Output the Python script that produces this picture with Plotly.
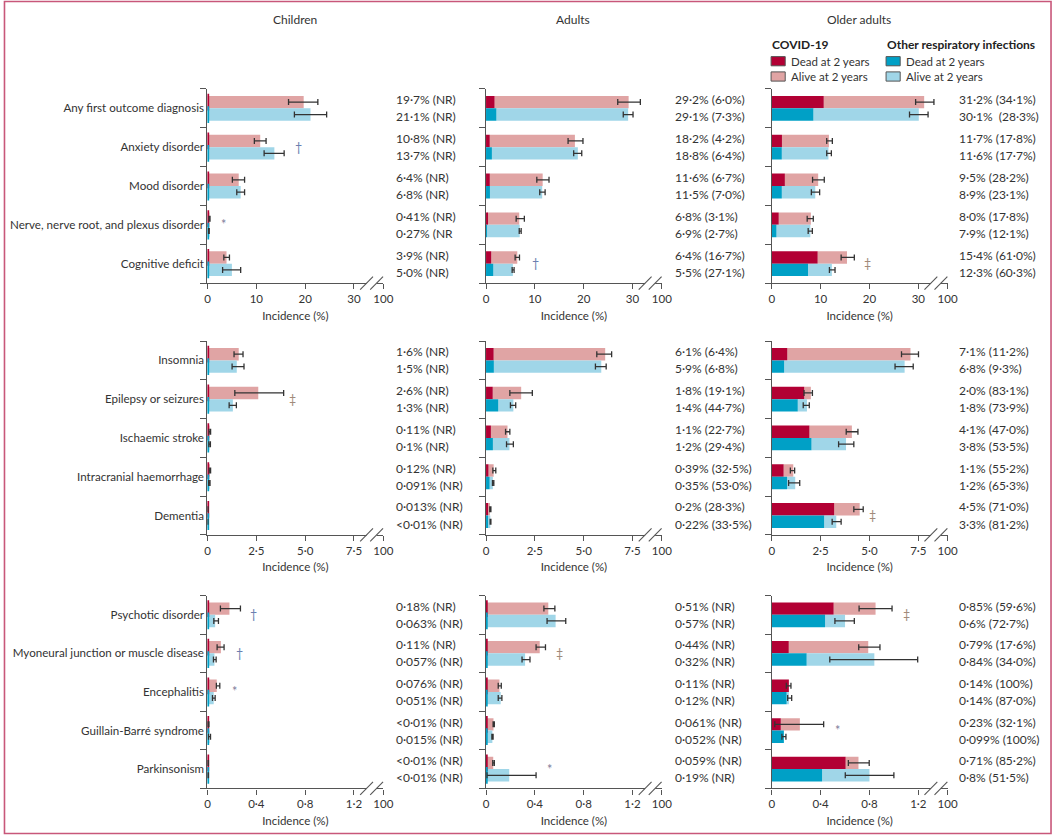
import plotly.graph_objects as go

# ---------------- DATA ----------------
groups = ["Children", "Adults", "Older adults"]

row1_categories = ["Any first outcome diagnosis", "Anxiety disorder", "Mood disorder",
                   "Nerve, nerve root, and plexus disorder", "Cognitive deficit"]
row2_categories = ["Insomnia", "Epilepsy or seizures", "Ischaemic stroke",
                   "Intracranial haemorrhage", "Dementia"]
row3_categories = ["Psychotic disorder", "Myoneural junction or muscle disease", "Encephalitis",
                   "Guillain-Barré syndrome", "Parkinsonism"]
row_categories = [row1_categories, row2_categories, row3_categories]

row_axis_max = [30, 7.5, 1.2]
row_tick_vals = [[0, 10, 20, 30], [0, 2.5, 5.0, 7.5], [0, 0.4, 0.8, 1.2]]
row_tick_text = [["0", "10", "20", "30", "100"], ["0", "2·5", "5·0", "7·5", "100"],
                 ["0", "0·4", "0·8", "1·2", "100"]]

# Children (share dead at 2 years not reported)
children_covid_total = [[19.7, 10.8, 6.4, 0.41, 3.9], [1.6, 2.6, 0.11, 0.12, 0.013], [0.18, 0.11, 0.076, 0.005, 0.005]]
children_covid_lo = [[16.6, 9.6, 5.1, 0.30, 3.35], [1.36, 1.40, 0.08, 0.09, 0.005], [0.106, 0.079, 0.073, 0.002, 0.001]]
children_covid_hi = [[22.6, 12.0, 7.6, 0.52, 4.5], [1.82, 3.9, 0.16, 0.16, 0.03], [0.27, 0.136, 0.101, 0.012, 0.008]]
children_covid_dead = [[None] * 5, [None] * 5, [None] * 5]
children_ori_total = [[21.1, 13.7, 6.8, 0.27, 5.0], [1.5, 1.3, 0.1, 0.091, 0.005], [0.063, 0.057, 0.051, 0.015, 0.005]]
children_ori_lo = [[17.8, 11.6, 6.0, 0.20, 3.1], [1.26, 1.11, 0.07, 0.06, 0.001], [0.052, 0.049, 0.041, 0.008, 0.001]]
children_ori_hi = [[24.4, 15.7, 7.6, 0.36, 6.8], [1.87, 1.48, 0.15, 0.13, 0.02], [0.09, 0.071, 0.063, 0.025, 0.008]]
children_ori_dead = [[None] * 5, [None] * 5, [None] * 5]
children_covid_text = [["19·7% (NR)", "10·8% (NR)", "6·4% (NR)", "0·41% (NR)", "3·9% (NR)"],
                       ["1·6% (NR)", "2·6% (NR)", "0·11% (NR)", "0·12% (NR)", "0·013% (NR)"],
                       ["0·18% (NR)", "0·11% (NR)", "0·076% (NR)", "<0·01% (NR)", "<0·01% (NR)"]]
children_ori_text = [["21·1% (NR)", "13·7% (NR)", "6·8% (NR)", "0·27% (NR", "5·0% (NR)"],
                     ["1·5% (NR)", "1·3% (NR)", "0·1% (NR)", "0·091% (NR)", "<0·01% (NR)"],
                     ["0·063% (NR)", "0·057% (NR)", "0·051% (NR)", "0·015% (NR)", "<0·01% (NR)"]]

# Adults
adults_covid_total = [[29.2, 18.2, 11.6, 6.8, 6.4], [6.1, 1.8, 1.1, 0.39, 0.2], [0.51, 0.44, 0.11, 0.061, 0.059]]
adults_covid_lo = [[26.97, 16.8, 10.4, 6.17, 5.96], [5.67, 1.22, 1.0, 0.35, 0.19], [0.474, 0.41, 0.10, 0.058, 0.055]]
adults_covid_hi = [[31.6, 19.85, 12.9, 7.85, 6.85], [6.43, 2.37, 1.22, 0.50, 0.25], [0.564, 0.487, 0.125, 0.068, 0.068]]
adults_covid_dead = [[6.0, 4.2, 6.7, 3.1, 16.7], [6.4, 19.1, 22.7, 32.5, 28.3], [None] * 5]
adults_ori_total = [[29.1, 18.8, 11.5, 6.9, 5.5], [5.9, 1.4, 1.2, 0.35, 0.22], [0.57, 0.32, 0.12, 0.052, 0.19]]
adults_ori_lo = [[28.1, 17.95, 11.0, 6.8, 5.35], [5.6, 1.25, 1.05, 0.33, 0.21], [0.50, 0.295, 0.10, 0.048, 0.008]]
adults_ori_hi = [[30.1, 19.6, 12.1, 7.2, 5.75], [6.15, 1.52, 1.4, 0.40, 0.25], [0.653, 0.36, 0.13, 0.058, 0.41]]
adults_ori_dead = [[7.3, 6.4, 7.0, 2.7, 27.1], [6.8, 44.7, 29.4, 53.0, 33.5], [None] * 5]
adults_covid_text = [["29·2% (6·0%)", "18·2% (4·2%)", "11·6% (6·7%)", "6·8% (3·1%)", "6·4% (16·7%)"],
                     ["6·1% (6·4%)", "1·8% (19·1%)", "1·1% (22·7%)", "0·39% (32·5%)", "0·2% (28·3%)"],
                     ["0·51% (NR)", "0·44% (NR)", "0·11% (NR)", "0·061% (NR)", "0·059% (NR)"]]
adults_ori_text = [["29·1% (7·3%)", "18·8% (6·4%)", "11·5% (7·0%)", "6·9% (2·7%)", "5·5% (27·1%)"],
                   ["5·9% (6·8%)", "1·4% (44·7%)", "1·2% (29·4%)", "0·35% (53·0%)", "0·22% (33·5%)"],
                   ["0·57% (NR)", "0·32% (NR)", "0·12% (NR)", "0·052% (NR)", "0·19% (NR)"]]

# Older adults
older_covid_total = [[31.2, 11.7, 9.5, 8.0, 15.4], [7.1, 2.0, 4.1, 1.1, 4.5], [0.85, 0.79, 0.14, 0.23, 0.71]]
older_covid_lo = [[29.45, 11.25, 8.35, 7.25, 14.2], [6.64, 1.65, 3.81, 0.95, 4.2], [0.715, 0.712, 0.119, 0.025, 0.627]]
older_covid_hi = [[33.2, 12.4, 10.75, 8.5, 16.9], [7.51, 2.08, 4.41, 1.17, 4.68], [0.985, 0.886, 0.157, 0.425, 0.798]]
older_covid_dead = [[34.1, 17.8, 28.2, 17.8, 61.0], [11.2, 83.1, 47.0, 55.2, 71.0], [59.6, 17.6, 100, 32.1, 85.2]]
older_ori_total = [[30.1, 11.6, 8.9, 7.9, 12.3], [6.8, 1.8, 3.8, 1.2, 3.3], [0.6, 0.84, 0.14, 0.099, 0.8]]
older_ori_lo = [[28.2, 11.25, 8.1, 7.45, 11.8], [6.31, 1.61, 3.42, 0.86, 3.09], [0.517, 0.475, 0.13, 0.083, 0.602]]
older_ori_hi = [[32.0, 12.2, 9.8, 8.3, 12.95], [7.24, 1.92, 4.2, 1.43, 3.55], [0.676, 1.195, 0.163, 0.116, 1.0]]
older_ori_dead = [[28.3, 17.7, 23.1, 12.1, 60.3], [9.3, 73.9, 53.5, 65.3, 81.2], [72.7, 34.0, 87.0, 100, 51.5]]
older_covid_text = [["31·2% (34·1%)", "11·7% (17·8%)", "9·5% (28·2%)", "8·0% (17·8%)", "15·4% (61·0%)"],
                    ["7·1% (11·2%)", "2·0% (83·1%)", "4·1% (47·0%)", "1·1% (55·2%)", "4·5% (71·0%)"],
                    ["0·85% (59·6%)", "0·79% (17·6%)", "0·14% (100%)", "0·23% (32·1%)", "0·71% (85·2%)"]]
older_ori_text = [["30·1%  (28·3%)", "11·6% (17·7%)", "8·9% (23·1%)", "7·9% (12·1%)", "12·3% (60·3%)"],
                  ["6·8% (9·3%)", "1·8% (73·9%)", "3·8% (53·5%)", "1·2% (65·3%)", "3·3% (81·2%)"],
                  ["0·6% (72·7%)", "0·84% (34·0%)", "0·14% (87·0%)", "0·099% (100%)", "0·8% (51·5%)"]]

# significance markers: (group index, row, category index, x value, symbol)
markers = [
    (0, 0, 1, 18.7, "†"), (0, 0, 3, 3.2, "*"), (1, 0, 4, 10.2, "†"), (2, 0, 4, 19.6, "‡"),
    (0, 1, 1, 4.37, "‡"), (2, 1, 4, 5.15, "‡"),
    (0, 2, 0, 0.38, "†"), (0, 2, 1, 0.26, "†"), (0, 2, 2, 0.22, "*"),
    (1, 2, 1, 0.605, "‡"), (1, 2, 4, 0.52, "*"), (2, 2, 0, 1.10, "‡"), (2, 2, 3, 0.54, "*"),
]
marker_colors = {"†": "#6a7fb0", "‡": "#a08a7a", "*": "#7d7d9a"}

# ---------------- STYLE ----------------
W, H = 1063, 836
FONT = "Lato, 'Noto Sans', sans-serif"
TXT = "#333333"
AX = "#555555"
C_COVID_DEAD, C_COVID_ALIVE = "#b20034", "#e0a4a4"
C_ORI_DEAD, C_ORI_ALIVE = "#00a0c6", "#a0d6e8"

col_px = [(207.0, 385.0), (489.0, 667.0), (778.3, 956.3)]
row_px = [(88.9, 283.1), (341.0, 534.9), (595.5, 788.4)]
label_px = [396, 678, 966]
title_px = [296, 577, 867]

group_data = [
    (children_covid_total, children_covid_lo, children_covid_hi, children_covid_dead,
     children_ori_total, children_ori_lo, children_ori_hi, children_ori_dead,
     children_covid_text, children_ori_text),
    (adults_covid_total, adults_covid_lo, adults_covid_hi, adults_covid_dead,
     adults_ori_total, adults_ori_lo, adults_ori_hi, adults_ori_dead,
     adults_covid_text, adults_ori_text),
    (older_covid_total, older_covid_lo, older_covid_hi, older_covid_dead,
     older_ori_total, older_ori_lo, older_ori_hi, older_ori_dead,
     older_covid_text, older_ori_text),
]

def px2x(p):
    return p / W

def px2y(p):
    return 1 - p / H

fig = go.Figure()
layout = {}
annotations = []
shapes = []
OFF = 0.16
BW = 0.32

for r in range(3):
    cats = row_categories[r]
    n = len(cats)
    centers = [n - 1 - i for i in range(n)]
    xmax = row_axis_max[r] * 1.2
    for c in range(3):
        k = r * 3 + c + 1
        xa = "x" if k == 1 else f"x{k}"
        ya = "y" if k == 1 else f"y{k}"
        (ct, clo, chi, cdead, ot, olo, ohi, odead, ctext, otext) = group_data[c]
        yc = [v + OFF for v in centers]
        yo = [v - OFF for v in centers]
        for tot, lo, hi, dshare, ys, cd, ca in [
            (ct[r], clo[r], chi[r], cdead[r], yc, C_COVID_DEAD, C_COVID_ALIVE),
            (ot[r], olo[r], ohi[r], odead[r], yo, C_ORI_DEAD, C_ORI_ALIVE),
        ]:
            dead = [t * (s / 100.0) if s is not None else 0.0 for t, s in zip(tot, dshare)]
            alive = [t - d for t, d in zip(tot, dead)]
            fig.add_trace(go.Bar(x=alive, y=ys, base=dead, orientation="h", width=BW,
                                 marker=dict(color=ca, line=dict(width=0)),
                                 xaxis=xa, yaxis=ya, showlegend=False, hoverinfo="skip"))
            fig.add_trace(go.Bar(x=dead, y=ys, base=[0] * n, orientation="h", width=BW,
                                 marker=dict(color=cd, line=dict(width=0)),
                                 xaxis=xa, yaxis=ya, showlegend=False, hoverinfo="skip"))
            # thin dead-colour edge where the dead share is not reported
            nr_y = [yv for yv, s in zip(ys, dshare) if s is None]
            if nr_y:
                fig.add_trace(go.Scatter(
                    x=[0] * len(nr_y), y=nr_y, mode="markers",
                    marker=dict(symbol="line-ns", size=12, line=dict(color=cd, width=3.4)),
                    xaxis=xa, yaxis=ya, showlegend=False, hoverinfo="skip", cliponaxis=True))
            fig.add_trace(go.Scatter(
                x=tot, y=ys, mode="markers",
                marker=dict(size=1, color="rgba(0,0,0,0)"),
                error_x=dict(type="data", symmetric=False,
                             array=[h - t for h, t in zip(hi, tot)],
                             arrayminus=[t - l for t, l in zip(tot, lo)],
                             color="#333333", thickness=1.3, width=3),
                xaxis=xa, yaxis=ya, showlegend=False, hoverinfo="skip", cliponaxis=False))

        x0p, x1p = col_px[c]
        y0p, y1p = row_px[r]
        layout["xaxis" if k == 1 else f"xaxis{k}"] = dict(
            domain=[px2x(x0p), px2x(x1p)], anchor=ya,
            range=[0, xmax], showgrid=False, zeroline=False,
            showline=True, linecolor=AX, linewidth=1.3,
            tickmode="array", tickvals=row_tick_vals[r] + [xmax], ticktext=row_tick_text[r],
            ticks="outside", ticklen=5, tickcolor=AX, tickwidth=1.2,
            tickfont=dict(family=FONT, size=11.5, color=TXT),
            title=dict(text="Incidence (%)", font=dict(family=FONT, size=11.5, color=TXT), standoff=7),
            fixedrange=True,
        )
        layout["yaxis" if k == 1 else f"yaxis{k}"] = dict(
            domain=[px2y(y1p), px2y(y0p)], anchor=xa,
            range=[-0.5, n - 0.5], showgrid=False, zeroline=False,
            showline=True, linecolor=AX, linewidth=1.3,
            tickmode="array", tickvals=centers, ticktext=cats, ticks="",
            showticklabels=(c == 0),
            tickfont=dict(family=FONT, size=11.6, color=TXT),
            minor=dict(tickmode="array", tickvals=[v - 0.5 for v in range(n + 1)],
                       ticks="outside", ticklen=6, tickcolor=AX, tickwidth=1.2, showgrid=False),
            fixedrange=True,
        )
        # value labels
        for i in range(n):
            annotations.append(dict(xref="paper", yref=ya, x=px2x(label_px[c]), y=centers[i] + 0.22,
                                    text=ctext[r][i], showarrow=False, xanchor="left", yanchor="middle",
                                    font=dict(family=FONT, size=12, color=TXT)))
            annotations.append(dict(xref="paper", yref=ya, x=px2x(label_px[c]), y=centers[i] - 0.22,
                                    text=otext[r][i], showarrow=False, xanchor="left", yanchor="middle",
                                    font=dict(family=FONT, size=12, color=TXT)))
        # axis break
        wpx = x1p - x0p
        b1 = x0p + wpx * 0.905
        b2 = x0p + wpx * 0.962
        shapes.append(dict(type="rect", xref="paper", yref="paper",
                           x0=px2x(b1), x1=px2x(b2), y0=px2y(y1p + 2.5), y1=px2y(y1p - 2.5),
                           fillcolor="white", line=dict(width=0), layer="above"))
        for b in (b1, b2):
            shapes.append(dict(type="line", xref="paper", yref="paper",
                               x0=px2x(b - 6.5), y0=px2y(y1p + 6.5), x1=px2x(b + 6.5), y1=px2y(y1p - 6.5),
                               line=dict(color=AX, width=1.1), layer="above"))

# markers
for g, r, ci, xv, sym in markers:
    n = len(row_categories[r])
    k = r * 3 + g + 1
    xa = "x" if k == 1 else f"x{k}"
    ya = "y" if k == 1 else f"y{k}"
    annotations.append(dict(xref=xa, yref=ya, x=xv, y=n - 1 - ci, text=sym, showarrow=False,
                            font=dict(family=FONT, size=12.5, color=marker_colors[sym])))

# column titles
for c in range(3):
    annotations.append(dict(xref="paper", yref="paper", x=px2x(title_px[c]), y=px2y(19.3),
                            text=groups[c], showarrow=False, xanchor="center", yanchor="middle",
                            font=dict(family=FONT, size=12, color=TXT)))

# legend
leg = [("COVID-19", 777.6, C_COVID_DEAD, C_COVID_ALIVE),
       ("Other respiratory infections", 894.0, C_ORI_DEAD, C_ORI_ALIVE)]
for title, lx, cd, ca in leg:
    annotations.append(dict(xref="paper", yref="paper", x=px2x(lx - 1), y=px2y(44.9), text=f"<b>{title}</b>",
                            showarrow=False, xanchor="left", yanchor="middle",
                            font=dict(family=FONT, size=12, color="#222222")))
    for j, (lab, col) in enumerate([("Dead at 2 years", cd), ("Alive at 2 years", ca)]):
        yy = 61.2 + 15.3 * j
        shapes.append(dict(type="rect", xref="paper", yref="paper",
                           x0=px2x(lx), x1=px2x(lx + 14.3), y0=px2y(yy + 4.6), y1=px2y(yy - 4.6),
                           fillcolor=col, line=dict(color="#555555", width=1)))
        annotations.append(dict(xref="paper", yref="paper", x=px2x(lx + 18), y=px2y(yy), text=lab,
                                showarrow=False, xanchor="left", yanchor="middle",
                                font=dict(family=FONT, size=11.5, color=TXT)))

# frame
shapes.append(dict(type="rect", xref="paper", yref="paper", x0=px2x(1.5), x1=px2x(1061), y0=px2y(833.5), y1=px2y(1.5),
                   line=dict(color="#c8577a", width=1.6), fillcolor="rgba(0,0,0,0)"))

fig.update_layout(**layout)
fig.update_layout(width=W, height=H, autosize=False, margin=dict(l=0, r=0, t=0, b=0),
                  paper_bgcolor="white", plot_bgcolor="white", barmode="overlay",
                  annotations=annotations, shapes=shapes, showlegend=False,
                  font=dict(family=FONT, size=11, color=TXT))

fig.write_html("out.html", config={"displayModeBar": False},
               post_script="document.body.style.margin='0';")
